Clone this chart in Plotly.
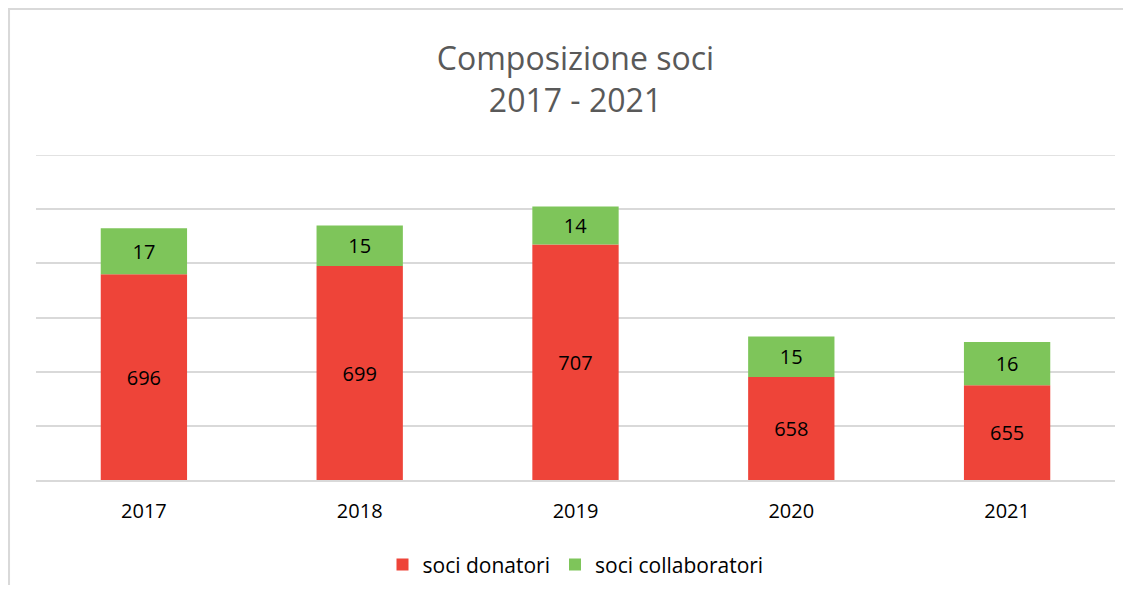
import plotly.graph_objects as go

anni = ["2017", "2018", "2019", "2020", "2021"]
soci_donatori = [696, 699, 707, 658, 655]
soci_collaboratori = [17, 15, 14, 15, 16]

Y_MIN = 620
Y_MAX = 740
ROSSO = "#EE4439"
VERDE = "#7EC55A"
GRIGIO = "#d9d9d9"
FONT = "Open Sans"

fig = go.Figure()

# red part drawn from the visible axis floor so the label sits in the middle of what is shown
fig.add_trace(go.Bar(
    x=anni,
    y=[v - Y_MIN for v in soci_donatori],
    base=Y_MIN,
    name="soci donatori",
    marker=dict(color=ROSSO, line=dict(width=0)),
    text=[str(v) for v in soci_donatori],
    textposition="inside",
    insidetextanchor="middle",
    textfont=dict(color="black", size=20, family=FONT),
    hovertemplate="%{x}: %{text}<extra>soci donatori</extra>",
))
fig.add_trace(go.Bar(
    x=anni,
    y=soci_collaboratori,
    base=soci_donatori,
    name="soci collaboratori",
    marker=dict(color=VERDE, line=dict(width=0)),
    text=[str(v) for v in soci_collaboratori],
    textposition="inside",
    insidetextanchor="middle",
    textfont=dict(color="black", size=20, family=FONT),
))

# the page body adds 8px margin, so the figure is sized to fit inside the window
fig.update_layout(
    width=1115,
    height=577,
    barmode="overlay",
    bargap=0.6,
    plot_bgcolor="white",
    paper_bgcolor="white",
    font=dict(family=FONT, color="black", size=20),
    title=dict(
        text="Composizione soci<br>2017 - 2021",
        x=0.5,
        xanchor="center",
        xref="paper",
        y=0.892,
        yanchor="middle",
        font=dict(size=32, color="#595959", family=FONT),
    ),
    margin=dict(l=28, r=8, t=147, b=105),
    showlegend=True,
    legend=dict(
        orientation="h",
        x=0.5,
        xanchor="center",
        yref="container",
        y=0.035,
        yanchor="middle",
        font=dict(size=21, color="black"),
    ),
    uniformtext=dict(mode="show", minsize=10),
    shapes=[
        dict(
            type="rect", xref="paper", yref="paper",
            x0=-0.025, x1=1.03, y0=-0.6, y1=1.449,
            line=dict(color=GRIGIO, width=2),
            layer="below",
        ),
        dict(
            type="line", xref="paper", yref="y",
            x0=0, x1=1, y0=Y_MAX, y1=Y_MAX,
            line=dict(color=GRIGIO, width=1.5),
            layer="below",
        ),
    ],
)
fig.update_xaxes(
    showline=True,
    linecolor=GRIGIO,
    linewidth=1.5,
    ticks="",
    tickfont=dict(size=20, color="black"),
    ticklabelstandoff=12,
)
fig.update_yaxes(
    range=[Y_MIN, Y_MAX],
    dtick=20,
    showticklabels=False,
    showgrid=True,
    gridcolor=GRIGIO,
    gridwidth=1.5,
    zeroline=False,
)

fig.write_html("out.html")
